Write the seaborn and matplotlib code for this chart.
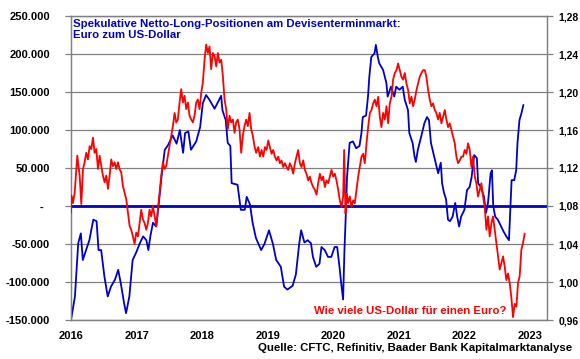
import matplotlib
matplotlib.use("Agg")
import matplotlib.pyplot as plt
import seaborn as sns
import pandas as pd
from matplotlib.ticker import FixedLocator, FuncFormatter

# ---------------- data ----------------
# Speculative net long positions EUR (weekly), left axis
blue_x = [2016.00, 2016.06, 2016.11, 2016.15, 2016.18, 2016.23, 2016.28, 2016.34, 2016.39, 2016.42,
          2016.46, 2016.51, 2016.56, 2016.61, 2016.67, 2016.72, 2016.76, 2016.81, 2016.84, 2016.89,
          2016.94, 2016.99, 2017.05, 2017.10, 2017.15, 2017.18, 2017.21, 2017.25, 2017.30, 2017.34,
          2017.38, 2017.43, 2017.48, 2017.55, 2017.61, 2017.66, 2017.71, 2017.74, 2017.79, 2017.83,
          2017.91, 2017.97, 2018.01, 2018.06, 2018.11, 2018.19, 2018.26, 2018.29, 2018.31, 2018.36,
          2018.39, 2018.43, 2018.45, 2018.54, 2018.59, 2018.65, 2018.68, 2018.73, 2018.77, 2018.82,
          2018.90, 2018.95, 2019.02, 2019.08, 2019.13, 2019.20, 2019.25, 2019.30, 2019.38, 2019.43,
          2019.48, 2019.51, 2019.56, 2019.61, 2019.66, 2019.69, 2019.74, 2019.79, 2019.82, 2019.87,
          2019.92, 2019.97, 2020.02, 2020.06, 2020.10, 2020.12, 2020.15, 2020.17, 2020.19, 2020.21,
          2020.25, 2020.30, 2020.35, 2020.40, 2020.43, 2020.45, 2020.50, 2020.53, 2020.55, 2020.58,
          2020.63, 2020.65, 2020.68, 2020.70, 2020.76, 2020.81, 2020.83, 2020.88, 2020.93, 2020.96,
          2021.01, 2021.06, 2021.09, 2021.14, 2021.16, 2021.21, 2021.24, 2021.26, 2021.29, 2021.34,
          2021.39, 2021.43, 2021.46, 2021.49, 2021.54, 2021.60, 2021.64, 2021.66, 2021.69, 2021.72,
          2021.75, 2021.78, 2021.82, 2021.86, 2021.89, 2021.92, 2021.95, 2022.00, 2022.04, 2022.08,
          2022.11, 2022.15, 2022.19, 2022.21, 2022.25, 2022.30, 2022.33, 2022.36, 2022.40, 2022.42,
          2022.44, 2022.47, 2022.51, 2022.56, 2022.60, 2022.64, 2022.68, 2022.70, 2022.72, 2022.76,
          2022.79, 2022.81, 2022.84, 2022.87, 2022.90]
blue_y = [-150000, -119000, -49000, -36000, -71000, -58000, -45000, -18000, -20000, -58000,
          -58000, -93000, -119000, -106000, -97000, -84000, -102000, -128000, -141000, -119000,
          -71000, -62000, -49000, -40000, -45000, -58000, -40000, -22000, -27000, 4000,
          38000, 74000, 80000, 93000, 82000, 100000, 70000, 96000, 98000, 74000,
          85000, 104000, 135000, 146000, 140000, 128000, 140000, 145000, 126000, 113000,
          83000, 79000, 30000, 28000, -5000, -5000, 12000, 2000, -22000, -42000,
          -58000, -50000, -32000, -50000, -71000, -80000, -106000, -110000, -105000, -90000,
          -50000, -32000, -48000, -45000, -49000, -67000, -80000, -76000, -54000, -58000,
          -67000, -67000, -54000, -54000, -84000, -101000, -123000, -60000, -14000, 38000,
          83000, 85000, 76000, 79000, 96000, 117000, 119000, 144000, 170000, 196000,
          201000, 212000, 196000, 188000, 179000, 162000, 144000, 157000, 144000, 157000,
          153000, 157000, 140000, 126000, 96000, 83000, 65000, 58000, 74000, 91000,
          109000, 117000, 113000, 83000, 65000, 43000, 57000, 30000, 17000, 9000,
          -18000, -20000, -14000, 4000, -14000, -27000, -14000, -5000, 21000, 25000,
          38000, 67000, 63000, 30000, 25000, 12000, -9000, 4000, 43000, 47000,
          0, -14000, -18000, -27000, -34000, -40000, -45000, -5000, 34000, 34000,
          47000, 83000, 113000, 122000, 133000]

# EUR/USD (daily), right axis
red_x = [2016.000, 2016.005, 2016.030, 2016.056, 2016.096, 2016.132, 2016.157, 2016.183, 2016.208, 2016.233,
         2016.259, 2016.284, 2016.310, 2016.335, 2016.360, 2016.386, 2016.411, 2016.437, 2016.462, 2016.487,
         2016.513, 2016.538, 2016.564, 2016.589, 2016.614, 2016.640, 2016.665, 2016.691, 2016.716, 2016.741,
         2016.767, 2016.792, 2016.818, 2016.843, 2016.868, 2016.894, 2016.919, 2016.944, 2016.970, 2016.995,
         2017.021, 2017.046, 2017.071, 2017.097, 2017.122, 2017.148, 2017.173, 2017.198, 2017.224, 2017.249,
         2017.275, 2017.300, 2017.325, 2017.351, 2017.376, 2017.402, 2017.427, 2017.453, 2017.478, 2017.503,
         2017.529, 2017.554, 2017.580, 2017.605, 2017.630, 2017.656, 2017.681, 2017.707, 2017.732, 2017.757,
         2017.783, 2017.808, 2017.834, 2017.859, 2017.884, 2017.910, 2017.935, 2017.961, 2017.986, 2018.011,
         2018.037, 2018.062, 2018.088, 2018.113, 2018.138, 2018.164, 2018.189, 2018.215, 2018.240, 2018.265,
         2018.291, 2018.316, 2018.342, 2018.367, 2018.392, 2018.418, 2018.443, 2018.469, 2018.494, 2018.519,
         2018.545, 2018.570, 2018.596, 2018.621, 2018.646, 2018.672, 2018.697, 2018.723, 2018.748, 2018.773,
         2018.799, 2018.824, 2018.856, 2018.881, 2018.907, 2018.932, 2018.957, 2018.983, 2019.008, 2019.034,
         2019.059, 2019.084, 2019.110, 2019.135, 2019.161, 2019.186, 2019.211, 2019.237, 2019.262, 2019.288,
         2019.313, 2019.338, 2019.364, 2019.389, 2019.415, 2019.440, 2019.465, 2019.491, 2019.516, 2019.542,
         2019.567, 2019.592, 2019.618, 2019.643, 2019.669, 2019.694, 2019.719, 2019.745, 2019.770, 2019.796,
         2019.821, 2019.846, 2019.872, 2019.897, 2019.923, 2019.948, 2019.973, 2019.999, 2020.024, 2020.049,
         2020.075, 2020.100, 2020.126, 2020.151, 2020.166, 2020.187, 2020.207, 2020.227, 2020.253, 2020.278,
         2020.304, 2020.329, 2020.354, 2020.380, 2020.405, 2020.431, 2020.456, 2020.481, 2020.507, 2020.532,
         2020.558, 2020.583, 2020.608, 2020.634, 2020.659, 2020.685, 2020.710, 2020.735, 2020.761, 2020.786,
         2020.812, 2020.837, 2020.862, 2020.888, 2020.913, 2020.939, 2020.964, 2020.989, 2021.015, 2021.040,
         2021.065, 2021.091, 2021.116, 2021.142, 2021.167, 2021.193, 2021.218, 2021.243, 2021.269, 2021.294,
         2021.319, 2021.345, 2021.370, 2021.396, 2021.421, 2021.447, 2021.472, 2021.497, 2021.523, 2021.548,
         2021.573, 2021.599, 2021.624, 2021.650, 2021.675, 2021.701, 2021.726, 2021.751, 2021.777, 2021.802,
         2021.827, 2021.853, 2021.878, 2021.904, 2021.929, 2021.955, 2021.980, 2022.005, 2022.031, 2022.056,
         2022.082, 2022.107, 2022.132, 2022.158, 2022.183, 2022.208, 2022.234, 2022.259, 2022.285, 2022.310,
         2022.336, 2022.361, 2022.386, 2022.412, 2022.437, 2022.463, 2022.488, 2022.513, 2022.539, 2022.564,
         2022.590, 2022.615, 2022.640, 2022.666, 2022.691, 2022.716, 2022.742, 2022.767, 2022.793, 2022.818,
         2022.843, 2022.869, 2022.894, 2022.920]
red_y = [1.073, 1.091, 1.083, 1.094, 1.133, 1.112, 1.082, 1.119, 1.126, 1.136,
         1.129, 1.143, 1.140, 1.152, 1.136, 1.140, 1.119, 1.133, 1.122, 1.112,
         1.105, 1.112, 1.098, 1.112, 1.129, 1.122, 1.126, 1.119, 1.126, 1.119,
         1.115, 1.101, 1.094, 1.087, 1.073, 1.059, 1.055, 1.048, 1.040, 1.052,
         1.048, 1.062, 1.076, 1.066, 1.062, 1.055, 1.062, 1.076, 1.069, 1.080,
         1.069, 1.059, 1.076, 1.094, 1.112, 1.126, 1.119, 1.122, 1.133, 1.143,
         1.154, 1.164, 1.178, 1.168, 1.171, 1.189, 1.203, 1.189, 1.196, 1.182,
         1.189, 1.175, 1.171, 1.168, 1.175, 1.189, 1.192, 1.182, 1.199, 1.210,
         1.234, 1.250, 1.241, 1.248, 1.224, 1.241, 1.238, 1.227, 1.241, 1.231,
         1.234, 1.217, 1.192, 1.182, 1.161, 1.175, 1.168, 1.171, 1.157, 1.168,
         1.171, 1.161, 1.136, 1.154, 1.164, 1.171, 1.164, 1.178, 1.161, 1.154,
         1.143, 1.136, 1.142, 1.132, 1.139, 1.132, 1.142, 1.139, 1.149, 1.142,
         1.135, 1.139, 1.132, 1.128, 1.132, 1.125, 1.128, 1.121, 1.125, 1.121,
         1.118, 1.125, 1.121, 1.114, 1.125, 1.132, 1.139, 1.125, 1.121, 1.128,
         1.118, 1.114, 1.107, 1.111, 1.104, 1.100, 1.097, 1.092, 1.104, 1.114,
         1.107, 1.111, 1.100, 1.107, 1.104, 1.111, 1.118, 1.111, 1.114, 1.107,
         1.097, 1.086, 1.079, 1.090, 1.139, 1.072, 1.093, 1.083, 1.090, 1.079,
         1.086, 1.083, 1.097, 1.111, 1.121, 1.132, 1.135, 1.125, 1.146, 1.163,
         1.178, 1.181, 1.188, 1.192, 1.185, 1.195, 1.174, 1.163, 1.178, 1.171,
         1.185, 1.167, 1.188, 1.195, 1.213, 1.220, 1.223, 1.230, 1.223, 1.216,
         1.213, 1.220, 1.209, 1.202, 1.188, 1.195, 1.185, 1.192, 1.202, 1.209,
         1.216, 1.220, 1.223, 1.223, 1.216, 1.202, 1.192, 1.185, 1.188, 1.181,
         1.178, 1.171, 1.178, 1.167, 1.174, 1.181, 1.171, 1.163, 1.167, 1.160,
         1.153, 1.146, 1.132, 1.125, 1.128, 1.132, 1.132, 1.139, 1.135, 1.146,
         1.139, 1.121, 1.132, 1.111, 1.104, 1.090, 1.097, 1.104, 1.090, 1.079,
         1.055, 1.069, 1.048, 1.062, 1.069, 1.055, 1.041, 1.027, 1.013, 1.020,
         1.027, 1.016, 1.002, 1.009, 0.999, 0.984, 0.963, 0.977, 0.974, 0.999,
         1.006, 1.034, 1.041, 1.051]

left_ticks = [-150000, -100000, -50000, 0, 50000, 100000, 150000, 200000, 250000]
right_ticks = [0.96, 1.00, 1.04, 1.08, 1.12, 1.16, 1.20, 1.24, 1.28]
year_ticks = [2016, 2017, 2018, 2019, 2020, 2021, 2022, 2023]

title_lines = ["Spekulative Netto-Long-Positionen am Devisenterminmarkt:", "Euro zum US-Dollar"]
red_label = "Wie viele US-Dollar für einen Euro?"
source_text = "Quelle: CFTC, Refinitiv, Baader Bank Kapitalmarktanalyse"

# ---------------- style ----------------
BLUE = "#0000cc"
RED = "#ff0000"
GRID = "#808080"

sns.set_style("white")
plt.rcParams['font.family'] = ['Liberation Sans', 'DejaVu Sans']
plt.rcParams['font.weight'] = 'bold'

W, H = 580, 359
fig = plt.figure(figsize=(W / 100, H / 100), dpi=100)
ax = fig.add_axes([71 / W, 1 - 320 / H, (547 - 71) / W, (320 - 16) / H])
ax2 = ax.twinx()

df_b = pd.DataFrame({"x": blue_x, "y": blue_y})
df_r = pd.DataFrame({"x": red_x, "y": red_y})

ax.axhline(0, color=BLUE, lw=2.0, zorder=3)
sns.lineplot(data=df_b, x="x", y="y", ax=ax, color=BLUE, lw=1.3, estimator=None, zorder=4)
sns.lineplot(data=df_r, x="x", y="y", ax=ax2, color=RED, lw=1.3, estimator=None, zorder=4)

ax.set_xlim(2016.0, 2023.26)
ax.set_ylim(-150000, 250000)
ax2.set_ylim(0.96, 1.28)

ax.yaxis.set_major_locator(FixedLocator(left_ticks))
ax2.yaxis.set_major_locator(FixedLocator(right_ticks))
ax.xaxis.set_major_locator(FixedLocator(year_ticks))


def left_fmt(v, pos):
    if abs(v) < 1:
        return "-  "
    return f"{v:,.0f}".replace(",", ".")


ax.yaxis.set_major_formatter(FuncFormatter(left_fmt))
ax2.yaxis.set_major_formatter(FuncFormatter(lambda v, p: f"{v:.2f}".replace(".", ",")))
ax.xaxis.set_major_formatter(FuncFormatter(lambda v, p: f"{int(round(v))}"))

ax.grid(False)
ax2.grid(False)
ax.yaxis.grid(True, color=GRID, lw=0.9)
ax.set_axisbelow(True)

for a in (ax, ax2):
    a.set_xlabel("")
    a.set_ylabel("")
    for s in a.spines.values():
        s.set_color(GRID)
        s.set_linewidth(0.9)
        s.set_visible(True)

ax.tick_params(axis='y', which='major', direction='out', length=4, width=0.9, color=GRID,
               labelsize=8, pad=11, labelcolor='black')
ax.tick_params(axis='x', which='major', direction='out', length=4, width=0.9, color=GRID,
               labelsize=8, pad=4, labelcolor='black')
ax2.tick_params(axis='y', which='major', direction='out', length=4, width=0.9, color=GRID,
                labelsize=7.5, pad=4.5, labelcolor='black')
for lab in ax.get_yticklabels() + ax.get_xticklabels() + ax2.get_yticklabels():
    lab.set_fontweight('bold')

FS = 8.2
fig.text(73 / W, 1 - 24 / H, title_lines[0], color=BLUE, fontsize=FS, fontweight='bold',
         ha='left', va='center')
fig.text(73 / W, 1 - 35.5 / H, title_lines[1], color=BLUE, fontsize=FS, fontweight='bold',
         ha='left', va='center')
fig.text(314 / W, 1 - 311 / H, red_label, color=RED, fontsize=FS, fontweight='bold',
         ha='left', va='center')
fig.text(572 / W, 1 - 348 / H, source_text, color='black', fontsize=FS, fontweight='bold',
         ha='right', va='center')

fig.savefig("out.png", dpi=100)
